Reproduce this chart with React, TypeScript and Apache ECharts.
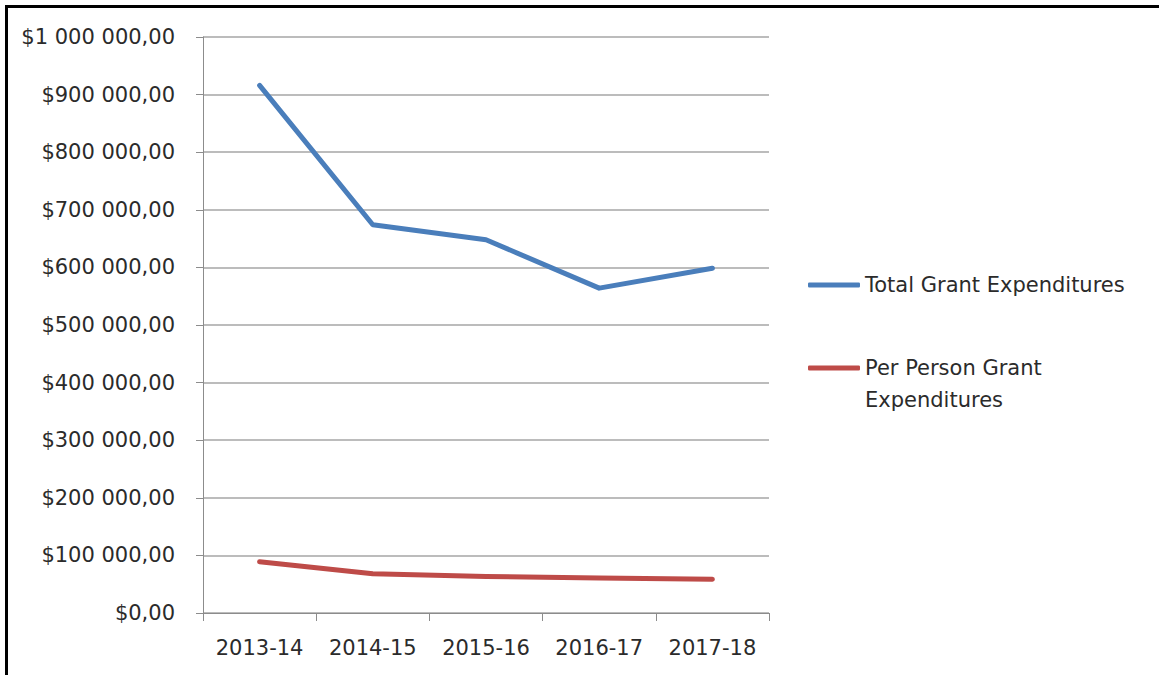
import React, { useEffect, useRef } from "react";
import * as echarts from "echarts";

const categories = ["2013-14", "2014-15", "2015-16", "2016-17", "2017-18"];
const totalGrant = [916000, 674000, 648000, 564000, 598500];
const perPersonGrant = [89000, 68000, 63500, 60800, 58500];
const seriesNames = ["Total Grant Expenditures", "Per Person Grant Expenditures"];

const FONT = "DejaVu Sans";
const TEXT = "#2b2b2b";
const FS = 21;

function fmt(v: number): string {
  const s = Math.round(v).toString().replace(/\B(?=(\d{3})+(?!\d))/g, " ");
  return "$" + s + ",00";
}

export default function App() {
  const ref = useRef<HTMLDivElement>(null);
  useEffect(() => {
    if (!ref.current) return;
    const chart = echarts.init(ref.current, null, { renderer: "svg" });
    chart.setOption({
      animation: false,
      backgroundColor: "#ffffff",
      grid: { left: 203, top: 37, right: 390, bottom: 62, containLabel: false },
      xAxis: {
        type: "category",
        data: categories,
        boundaryGap: true,
        axisLine: { lineStyle: { color: "#8c8c8c", width: 1 } },
        axisTick: { show: true, length: 8, interval: 0, lineStyle: { color: "#8c8c8c" }, alignWithLabel: false },
        axisLabel: { color: TEXT, fontFamily: FONT, fontSize: FS, margin: 24, interval: 0, hideOverlap: false },
        splitLine: { show: false },
      },
      yAxis: {
        type: "value",
        min: 0,
        max: 1000000,
        interval: 100000,
        axisLine: { show: true, lineStyle: { color: "#8c8c8c", width: 1 } },
        axisTick: { show: true, length: 7, lineStyle: { color: "#8c8c8c" } },
        axisLabel: { color: TEXT, fontFamily: FONT, fontSize: FS, margin: 28, formatter: (v: number) => fmt(v) },
        splitLine: { show: true, lineStyle: { color: "#a6a6a6", width: 1.5 } },
      },
      legend: [
        {
          data: [seriesNames[0]],
          left: 808,
          top: 273,
          padding: 0,
          orient: "vertical",
          icon: "roundRect",
          itemWidth: 52,
          itemHeight: 5,
          textStyle: { color: TEXT, fontFamily: FONT, fontSize: FS, lineHeight: 24 },
        },
        {
          data: [seriesNames[1]],
          left: 808,
          top: 320,
          padding: 0,
          orient: "vertical",
          icon: "roundRect",
          itemWidth: 52,
          itemHeight: 5,
          formatter: () => "\nPer Person Grant\nExpenditures",
          textStyle: { color: TEXT, fontFamily: FONT, fontSize: FS, lineHeight: 32 },
        },
      ],
      series: [
        {
          name: seriesNames[0],
          type: "line",
          data: totalGrant,
          symbol: "none",
          lineStyle: { color: "#4a7ebb", width: 5, cap: "round", join: "round" },
          itemStyle: { color: "#4a7ebb" },
        },
        {
          name: seriesNames[1],
          type: "line",
          data: perPersonGrant,
          symbol: "none",
          lineStyle: { color: "#be4b48", width: 5, cap: "round", join: "round" },
          itemStyle: { color: "#be4b48" },
        },
      ],
      graphic: [
        { type: "rect", left: 5, top: 5, shape: { width: 1154, height: 3 }, style: { fill: "#000" }, silent: true },
        { type: "rect", left: 5, top: 5, shape: { width: 3, height: 670 }, style: { fill: "#000" }, silent: true },
      ],
    });
    return () => chart.dispose();
  }, []);
  return (
    <div
      ref={ref}
      style={{ position: "fixed", left: 0, top: 0, width: 1159, height: 675, background: "#fff" }}
    />
  );
}
